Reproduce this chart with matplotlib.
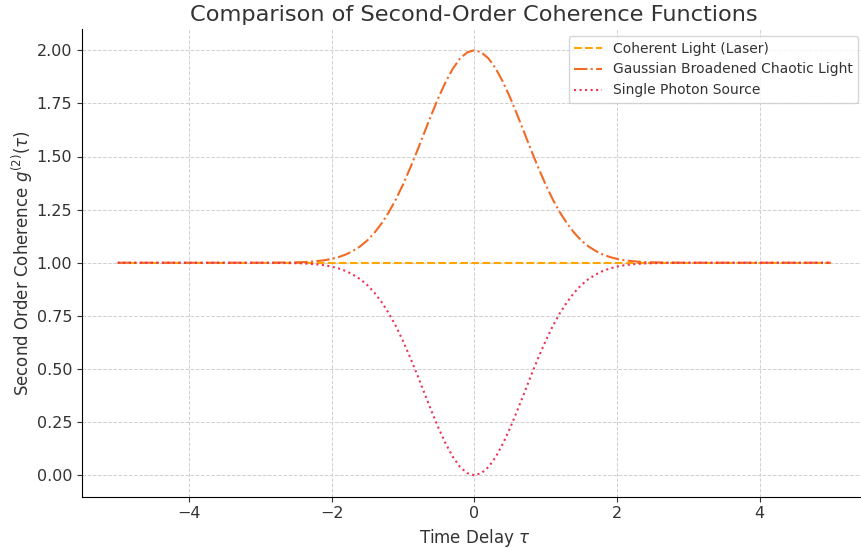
import numpy as np
from matplotlib import pyplot as plt

# time delay values (tau)
tau = [-5.0, -4.0, -3.0,
       -2.5, -2.4, -2.3, -2.2, -2.1, -2.0, -1.9, -1.8, -1.7, -1.6, -1.5, -1.4, -1.3,
       -1.2, -1.1, -1.0, -0.9, -0.8, -0.7, -0.6, -0.5, -0.4, -0.3, -0.2, -0.1, 0.0,
       0.1, 0.2, 0.3, 0.4, 0.5, 0.6, 0.7, 0.8, 0.9, 1.0, 1.1, 1.2, 1.3, 1.4, 1.5,
       1.6, 1.7, 1.8, 1.9, 2.0, 2.1, 2.2, 2.3, 2.4, 2.5,
       3.0, 4.0, 5.0]

# coherent light: flat at 1
g2_coherent = [1.0] * len(tau)

# chaotic light (peak 2 at tau=0)
g2_chaotic = [1.0, 1.0, 1.0,
              1.002, 1.003, 1.005, 1.008, 1.012, 1.018, 1.027, 1.039, 1.056, 1.077, 1.105, 1.141, 1.185,
              1.237, 1.298, 1.368, 1.445, 1.527, 1.613, 1.698, 1.779, 1.852, 1.914, 1.961, 1.990, 2.0,
              1.990, 1.961, 1.914, 1.852, 1.779, 1.698, 1.613, 1.527, 1.445, 1.368, 1.298, 1.237, 1.185, 1.141, 1.105,
              1.077, 1.056, 1.039, 1.027, 1.018, 1.012, 1.008, 1.005, 1.003, 1.002,
              1.0, 1.0, 1.0]

# single photon source (dip to 0 at tau=0)
g2_single = [1.0, 1.0, 1.0,
             0.998, 0.997, 0.995, 0.992, 0.988, 0.982, 0.973, 0.961, 0.944, 0.923, 0.895, 0.859, 0.815,
             0.763, 0.702, 0.632, 0.555, 0.473, 0.387, 0.302, 0.221, 0.148, 0.086, 0.039, 0.010, 0.0,
             0.010, 0.039, 0.086, 0.148, 0.221, 0.302, 0.387, 0.473, 0.555, 0.632, 0.702, 0.763, 0.815, 0.859, 0.895,
             0.923, 0.944, 0.961, 0.973, 0.982, 0.988, 0.992, 0.995, 0.997, 0.998,
             1.0, 1.0, 1.0]

txt = '#333333'
plt.rcParams['text.color'] = txt
plt.rcParams['axes.labelcolor'] = txt
plt.rcParams['xtick.color'] = txt
plt.rcParams['ytick.color'] = txt

fig = plt.figure(figsize=(8.62, 5.48), dpi=100)
ax = fig.add_axes([82 / 862, 51.5 / 548, 784.6 / 862, 467.5 / 548])

ax.plot(tau, g2_coherent, linestyle='--', color='#FFA500', lw=1.5, label='Coherent Light (Laser)')
ax.plot(tau, g2_chaotic, linestyle='-.', color='#F26B25', lw=1.5, label='Gaussian Broadened Chaotic Light')
ax.plot(tau, g2_single, linestyle=':', color='#EE3355', lw=1.5, label='Single Photon Source')

ax.set_xlim(-5.5, 5.5)
ax.set_ylim(-0.1, 2.1)
ax.set_xticks([-4, -2, 0, 2, 4])
ax.set_yticks([0, 0.25, 0.5, 0.75, 1.0, 1.25, 1.5, 1.75, 2.0])
ax.yaxis.set_major_formatter(plt.FormatStrFormatter('%.2f'))
ax.tick_params(labelsize=11.5)
ax.grid(True, linestyle='--', color='#d0d0d0', lw=0.7)
ax.spines['top'].set_visible(False)
ax.spines['right'].set_visible(False)

ax.set_title('Comparison of Second-Order Coherence Functions', fontsize=16.2, color=txt)
ax.set_xlabel(r'Time Delay $\tau$', fontsize=12)
ax.set_ylabel(r'Second Order Coherence $g^{(2)}(\tau)$', fontsize=12, labelpad=1)
ax.legend(loc='upper right', fontsize=10, bbox_to_anchor=(0.9985, 1.0))

plt.savefig('out.png', dpi=100)
